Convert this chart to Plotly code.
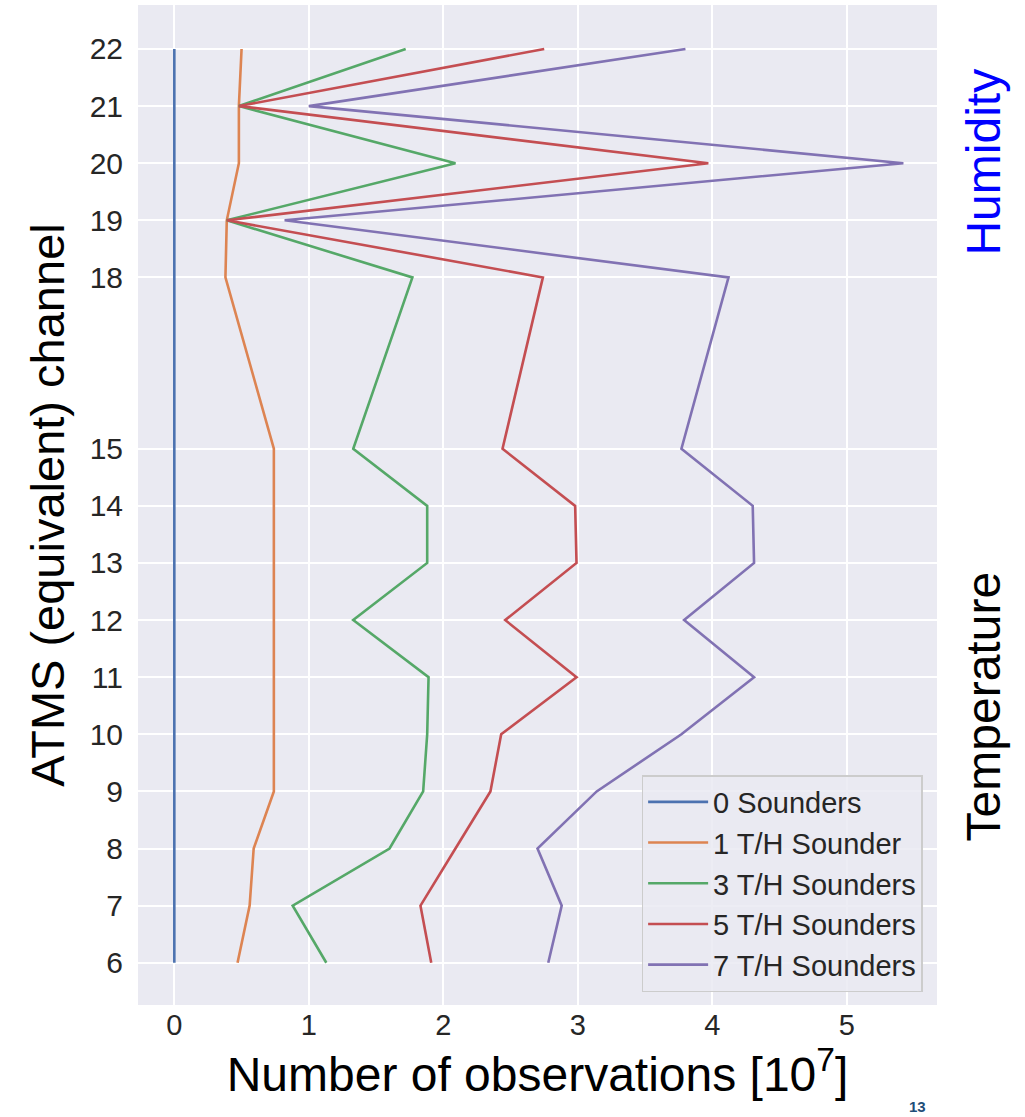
import plotly.graph_objects as go

# ATMS (equivalent) channels shown on the vertical axis
channels = [6, 7, 8, 9, 10, 11, 12, 13, 14, 15, 18, 19, 20, 21, 22]

# Number of observations [10^7] per channel for each sounder configuration
obs_0 = [0, 0, 0, 0, 0, 0, 0, 0, 0, 0, 0, 0, 0, 0, 0]
obs_1 = [0.47, 0.56, 0.59, 0.74, 0.74, 0.74, 0.74, 0.74, 0.74, 0.74, 0.38, 0.39, 0.48, 0.48, 0.50]
obs_3 = [1.13, 0.88, 1.60, 1.85, 1.88, 1.89, 1.33, 1.88, 1.88, 1.33, 1.77, 0.39, 2.09, 0.48, 1.72]
obs_5 = [1.91, 1.83, 2.09, 2.35, 2.43, 2.99, 2.46, 2.99, 2.98, 2.44, 2.74, 0.39, 3.97, 0.48, 2.75]
obs_7 = [2.78, 2.88, 2.70, 3.14, 3.77, 4.31, 3.79, 4.31, 4.30, 3.77, 4.12, 0.82, 5.42, 1.00, 3.80]

series_names = ["0 Sounders", "1 T/H Sounder", "3 T/H Sounders", "5 T/H Sounders", "7 T/H Sounders"]
series_values = [obs_0, obs_1, obs_3, obs_5, obs_7]
series_colors = ["#4C72B0", "#DD8452", "#55A868", "#C44E52", "#8172B3"]

x_ticks = [0, 1, 2, 3, 4, 5]

fig = go.Figure()
for name, vals, color in zip(series_names, series_values, series_colors):
    fig.add_trace(go.Scatter(
        x=vals, y=channels, mode="lines", name=name,
        line=dict(color=color, width=2.6),
    ))

fig.update_layout(
    width=1025, height=1117,
    margin=dict(l=138, r=88, t=5, b=112),
    paper_bgcolor="white",
    plot_bgcolor="#EAEAF2",
    font=dict(family="Liberation Sans, Arial, sans-serif", color="#262626"),
    showlegend=True,
    legend=dict(
        x=0.982, y=0.013, xanchor="right", yanchor="bottom",
        bgcolor="rgba(234,234,242,0.85)",
        bordercolor="#CCCCCC", borderwidth=1.5,
        font=dict(size=29, color="#262626"),
        tracegroupgap=0, itemwidth=60,
    ),
    xaxis=dict(
        range=[-0.27, 5.67],
        tickvals=x_ticks,
        ticktext=[str(v) for v in x_ticks],
        tickfont=dict(size=29, color="#262626"),
        showgrid=True, gridcolor="white", gridwidth=1.8,
        zeroline=False, showline=False, ticks="",
        title=dict(
            text="Number of observations [10<sup>7</sup>]",
            font=dict(size=48, color="black"),
            standoff=16,
        ),
    ),
    yaxis=dict(
        range=[5.26, 22.77],
        tickvals=channels,
        ticktext=[str(c) for c in channels],
        tickfont=dict(size=30, color="#262626"),
        showgrid=True, gridcolor="white", gridwidth=1.8,
        zeroline=False, showline=False, ticks="",
        ticklabelstandoff=14,
        title=dict(
            text="ATMS (equivalent) channel",
            font=dict(size=47, color="black"),
            standoff=10,
        ),
    ),
)

# Channel-group labels on the right-hand side
fig.add_annotation(
    text="Humidity", xref="paper", yref="y", x=1.0, y=20.02,
    xanchor="left", xshift=18, showarrow=False, textangle=-90,
    font=dict(size=48, color="#0000FF"),
)
fig.add_annotation(
    text="Temperature", xref="paper", yref="y", x=1.0, y=10.48,
    xanchor="left", xshift=18, showarrow=False, textangle=-90,
    font=dict(size=48, color="black"),
)
# Slide page number at the bottom edge
fig.add_annotation(
    text="<b>13</b>", xref="paper", yref="paper", x=0.975, y=0, yshift=-112,
    xanchor="center", yanchor="bottom", showarrow=False,
    font=dict(size=15, color="#1F4E79"),
)

fig.write_html("out.html")
